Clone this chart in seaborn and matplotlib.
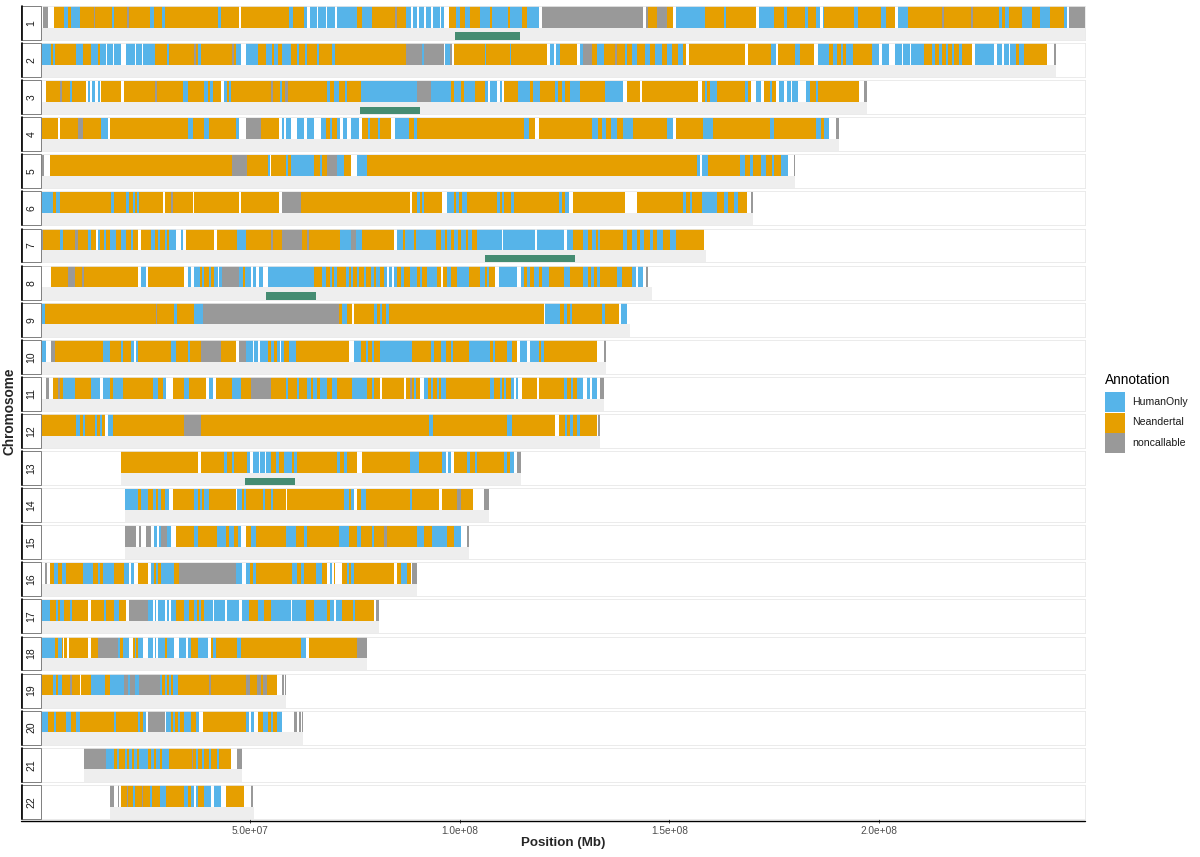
import numpy as np
import pandas as pd
import matplotlib
matplotlib.use("Agg")
import matplotlib.pyplot as plt
import seaborn as sns
from matplotlib.patches import Rectangle
from matplotlib.lines import Line2D

# ---------------------------------------------------------
# Data: one track string per chromosome.
# Each token = annotation code + start position (Mb); a segment runs
# until the next token. H=HumanOnly, N=Neandertal, X=noncallable,
# G=no call (blank), E=end of track.
# ---------------------------------------------------------
chrom_names = ["1", "2", "3", "4", "5", "6", "7", "8", "9", "10", "11",
               "12", "13", "14", "15", "16", "17", "18", "19", "20", "21", "22"]

tracks = [
    # 1
    "G0 X0.5 G1.7 N3.1 H5.5 N6.4 H7.2 N9.2 X12.6 N13 H17 N17.4 X20.5 N21 H26 N26.9 H28.8 N29.7 "
    "H42.3 N43 G47.3 N47.8 H59.2 N60.2 H62.8 G63.6 H64.2 G65.8 H66.2 G68 H68.3 G70.3 H70.6 N75.5 "
    "H76.7 N79.1 X84.5 N85 H87.1 G88.3 H88.8 G89.8 H90.3 G91.5 H92 G93 H93.6 G95.2 H95.6 G96.2 "
    "N97.4 H99 N100 H101.3 N102.4 H104.9 N107.1 H107.6 N111.5 H112 N114.8 H116 G119 X119.6 G143.8 "
    "X144.5 N145 X147 N149.4 G151 H151.7 N158.5 H163 N163.5 G170.8 H171.4 N175.1 H177.5 N178.2 "
    "H182.5 N183 H185 G186 H186.8 N187 H194 N195 H200.5 N201.8 G204 H204.6 N206.9 X215 N215.5 "
    "X222 N222.4 H228.7 N229.5 H230.2 N231 H234.3 N236.6 H238.6 N241 H244.2 G245 X245.4 E249.2",
    # 2
    "H0 N2.3 H2.9 N3.4 H8.4 N10 H12 N13.6 H14 G15.5 H15.8 G17.2 H17.5 G19 H20.3 G22.5 H22.8 G24 "
    "H24.3 N27.1 H30.1 N30.5 X36.5 N37 H37.5 N38.2 X45.5 N46 H46.5 G47.7 H48.9 N51.7 H53.7 N55.2 "
    "H55.6 N56.5 H57.6 N59.6 H61 N61.5 H63 N63.5 H66 N66.3 H69.5 N70.3 X87.1 H91 X91.5 G96.2 "
    "H96.5 X97.6 G98.2 N98.6 H106 N106.3 H112 N112.3 G120.8 H121.6 G122.5 H123 N124 G127.9 H128.6 "
    "X129.5 N131.5 H132.7 N134.3 X137 N137.6 H139.5 N140 H141 N142.2 H144.2 N145.4 H146.6 N148.2 "
    "H149.4 N150.6 H152.1 N153.3 G154.1 N154.8 G168 N168.8 H174.3 G175.5 N175.9 H179.9 N181.1 "
    "G184.6 H185.4 N188.2 H189 N190 H191 N191.5 H192.2 N193.8 H198.5 G200.1 H200.9 G202.5 H203.9 "
    "G205.5 H205.8 G207.5 H207.8 N210.8 H212.8 N213.5 H214.3 N215.2 H216 N216.6 H217.5 N218 "
    "H219.2 N219.8 G222.3 H223.1 G227.5 H228.3 G229.5 H229.8 G231 H231.3 N232.7 H233.5 N234.6 "
    "G240.2 X241.8 E242.3",
    # 3
    "G0 N1.3 X4.5 N5 H7 N7.5 G10.8 H11.2 G11.6 H12.2 G13 H13.5 G14 N14.4 G19.1 N19.8 X27.2 N27.8 "
    "H33.8 N35 H39 N39.8 H40.3 N41 G42.9 H43.7 N44.5 H45 N45.3 X55 N55.5 H57 N57.5 X58.3 N59 "
    "H68.3 N69 H70 N71.1 H72.5 N73.1 H76.3 X89.8 H93 N97.8 H98.6 N100.2 H101 N103.7 H106.1 G106.8 "
    "H107.3 G108.9 H109.5 G110 N110.5 H114 N116.8 H117.5 N119.2 H122.8 N123.5 H124.5 N125 H126.3 "
    "N128.7 H134.7 G139 N139.8 G143 N143.4 G156.9 N157.7 H158.5 N159 H159.8 N161.3 H168 N168.8 "
    "G169.6 H170.8 G172 N172.7 H174 N174.5 G175.5 H176.3 G177.5 H178 G179 H179.3 G180.7 H182.7 "
    "N183.5 H185 N185.5 G195.4 X196.6 E197.3",
    # 4
    "N0 G4.1 N4.5 X8.8 N10 H14.4 G15.9 N16.4 H35 N36.2 H39 N40.2 H46.5 G47.3 X48.9 N52.5 G56.8 "
    "H57.5 G58 H58.4 G59.6 H61.2 G62.8 H63.6 G65.2 H66.8 N68 H69 N69.5 H70.7 G71.5 H72 G73 H73.9 "
    "G75.9 N76.7 H78 N78.5 H80.5 N81 G83.5 H84.5 N87.9 H89 N89.8 H115.2 N116.4 G118 N118.8 H131.5 "
    "N133 H134 N135 H136 N137.5 H139 N141.4 H149.4 G151 N151.7 H158.1 N160.5 H174 N175 H185 "
    "N186.2 H187 G188.2 X189.8 E190.4",
    # 5
    "G0 X0.1 G0.8 N2.1 X45.7 N49.3 H54.1 G54.7 N55 H58.4 N59 H59.6 N65.2 H66.5 N67 X68.3 H70.7 "
    "N72.3 G73.9 H75.5 N77.9 H156.5 G157.3 H157.8 N159.3 H166.8 N168 H169.2 N170 H172 N173.1 "
    "H174.5 N175 H176.7 G178.3 X179.7 E180.1",
    # 6
    "H0 N2.9 H3.5 N4.5 H16.8 N17.5 H20.3 N21.1 H22 N22.5 H23 N23.5 G29.1 N29.5 X31 N31.5 G36.2 "
    "N36.6 G47.3 N47.7 G56.8 X57.6 N62 G88.2 N88.6 H89.8 N90.6 H91 N91.4 G95.8 H97 N98.5 H99 "
    "N99.8 H100.5 N101.7 H108.9 N109.7 H110 N110.5 H112.1 N112.9 H123.6 N124.5 H125 G126 N127.1 "
    "G139.4 N142.2 H153.3 N154 H154.9 N155.5 H157.7 N161.3 H163 N164 H165.5 N166.5 G168.5 X169.5 "
    "E170",
    # 7
    "X0 N0.5 H4.5 N5.3 X8 N8.8 H11.2 N12 G13.2 H13.6 N14 H15 N15.5 H16.4 N18 H19.1 N20.3 H21.5 "
    "N22 G23.1 N23.9 H26.3 N27.1 H28 N28.5 H29.5 N30 H30.6 G32.2 H33.4 G34 N34.6 G41.4 N42.1 "
    "H46.9 N48.9 X54.8 N55.5 X57.6 N62.4 X63.5 N64 H71.5 X73.9 H75.1 N76.7 G84.3 H84.9 N86.5 H87 "
    "N89 H89.5 N94.2 H95.4 N96.5 H97 N98 H98.5 N99.5 H100.2 N101.5 H102 N103 H104 G110 H110.3 "
    "G118 H118.3 G124.8 H125.6 N127.1 H129.5 N130.5 H131.5 N132.5 H133 N133.5 H139 N140 H141 "
    "N142.2 H143 N144 H145.4 N146 H147 N148.5 H150.1 N151.7 G158.2 E158.8",
    # 8
    "G0 N2.5 X6.4 N8 X9.8 N10.2 G23.1 H23.9 G25.1 N25.5 G34.2 H35 G35.8 H36.6 N38 H38.5 N39 H40 "
    "N40.6 H41.4 G42.3 H42.6 X43.3 H47.3 N48.2 H48.8 G50.1 H50.7 G51.3 H52.1 G53 H54.1 N65.2 "
    "H67.2 N68 H69 N69.5 H70 N70.7 H72.7 N73.5 H74 N74.5 H75.5 N76 H77 N77.5 H78.7 N79.5 H80 N81 "
    "H81.9 G82.5 H83 G83.8 H84.2 N85.1 H86 N86.7 H88.2 N89.8 H90.5 N91 H92.2 N94.6 G95.5 N96 H97 "
    "N98 H99.4 N102.1 H104.9 N106 H106.5 N106.9 G108.5 H109.3 G113.6 H114.5 N115.2 H116 N116.8 "
    "H117.6 N118.8 H119.5 N121.2 H124.8 N126.3 H129.5 N130.5 H131.3 N132 H132.8 N133.5 H137.5 "
    "N138.6 H141 G142 H142.5 G143.8 X144.5 G145 E145.8",
    # 9
    "H0 N1 X27.5 N27.8 H31.8 N32.5 H36.6 X38.6 N71.1 H71.9 N73.1 G74.3 N74.7 H79.5 N80.2 H81 "
    "N81.4 H82.3 N83 G120 H120.4 N124 H124.8 N125.6 H126.3 N126.7 H133.9 N134.7 G137.9 H138.4 "
    "G139.8 E140.6",
    # 10
    "H0 G1.3 X2.5 N3.3 H14.8 N16.4 H19 N19.5 H21.5 G22.3 H22.6 N23.1 H31 N32.2 H35 N35.5 X38.2 "
    "N42.9 G46.5 X47.3 H48.9 G50.5 H50.8 G51.8 H52.2 N54.1 H55 N55.6 H56.4 G57 H57.4 N58 H59.2 "
    "N60.8 G73.5 H74.7 N76.3 H77.5 N78 H79 N79.5 H81 N88.6 H93 N93.8 H95.4 N96.6 H97.8 N98.4 "
    "H102.1 N107.3 H108 N108.5 H111.3 N112.5 G113.6 H114.4 G116 H116.8 N118.8 H119.3 N120 G132.7 "
    "X134.3 E135",
    # 11
    "G0 X1.3 G2 N2.9 X4 N4.5 H5.2 N8 H12 G14 H14.8 N16.5 H17.2 N19.5 H26.7 N27.9 H29.1 G29.9 "
    "N31.4 H34.2 N35.4 G39.4 H40.2 G41 N41.8 H45.7 N47.7 X50.1 N54.9 H58.5 N59 H61 N61.5 H63.6 "
    "N64.5 H65 N66 H66.5 N68.3 H69.5 N70.7 H74.3 N77.9 H79 N79.5 G81 N81.5 G86.7 N87.1 X88 N88.5 "
    "H89 N89.5 G90.6 H91.4 N92.5 H93 N93.5 H94.5 N95 H95.5 N96.6 H107.3 N108.1 H109.5 N110 "
    "H110.5 N111 H112.1 G112.9 H113.3 G114 N114.8 G118.4 N118.8 H124.8 N125.5 H126.5 N127 H127.9 "
    "G129.5 H130.3 G131 H131.5 G132.7 X133.5 E134.3",
    # 12
    "N0 H8.4 N9.3 H10 N10.4 H12.8 N13.3 H14 N14.5 G15.2 H16 N17.2 X34.2 N38.3 H92.6 N93.6 "
    "H111.3 N112.5 G122.8 N123.6 H125 N125.5 H126.3 N127 H128 N128.7 G132.7 X133 E133.5",
    # 13
    "N19 G37.4 N38.2 H43.7 N44.5 H45.5 N46.1 H49.3 G50 H50.5 G52 H52.3 G53.5 H53.8 N55 H56 "
    "N56.8 H58 N60 H60.5 N61.2 H70.7 N71.3 H72.3 N73.1 G75.5 N76.7 H88.2 N90.2 H95.8 G96.6 "
    "H97.2 G97.8 N98.6 H101.7 N102.5 H103.5 N104 H110.5 N111.2 H112 G112.9 X113.6 E114.7",
    # 14
    "H20.1 N23.1 H23.9 N25.5 H26.7 N27.5 H28 N28.7 H29.5 G30.6 N31.4 H36.6 N37.5 H38 N38.5 H39 "
    "N40.2 G46.5 H46.9 N48 H48.5 N48.9 H53 N53.5 H55 N55.5 G58.4 N58.8 H72.3 N73.5 H74 G74.7 "
    "N75.5 H76.5 N77.5 H88 N88.5 G95 N95.8 X99.4 N100.2 G103.2 X105.7 E106.9",
    # 15
    "X20.1 G22.7 X23.5 G23.9 X25.1 G26.3 H27 G27.8 H28.2 X28.7 H30 G31 N32.2 H36.6 N37.4 H42.1 "
    "N44.1 H44.9 N46.1 H47 G47.7 N48.9 H50.1 N51.3 H58.4 N60.8 H62.8 N63.6 H71.1 N73.5 H75.5 "
    "N76.3 H79 N79.5 X82 N82.5 H89.8 N91.4 H93.4 N97 H98.6 G100.3 X101.7 E102.1",
    # 16
    "G0 X0.9 G1.5 N2.1 H3 N4 H5 N6 H10 N12.4 H13.5 N14 H14.8 N17.5 H19.9 G21 H21.5 G22.3 N23.1 "
    "G25.5 H26.3 N27 H27.5 N28 H28.7 N31.8 X33 H46.5 G48.1 H48.9 N50 H50.5 N51.3 H60 N61 H62 "
    "N62.8 H65.6 N67.2 G68.3 H69 G69.5 N70 G70.3 N71.9 H73 N73.5 H74 N74.7 G84.3 N85 H86 N87.5 "
    "G88.3 X88.6 E89.8",
    # 17
    "H0 N2.1 H3.5 N4 H4.5 N5.6 H7 N7.5 G11.2 N12 H15 N15.5 H17.5 N18.7 G20.3 X21.1 H25.5 G26.7 "
    "H27.1 G27.5 H27.9 G29.5 H30 G30.5 H31 N32.2 H34.2 N35.4 H36.6 N37.2 H37.8 N38.3 H39 G41 "
    "H41.3 G44 H44.3 G47.3 H48.1 N49.7 H51.7 N53.3 H54.9 G59.6 H60 N63.2 H65.2 N68.3 H69 G69.9 "
    "H70.5 N71.9 H74.5 N75 G79.5 X80 E80.8",
    # 18
    "H0 N3.3 H4.1 N5 G5.2 N5.6 G6.3 N6.8 G11.2 N12 G12.8 N13 X13.6 H18.3 N18.8 H19.5 G21.1 N21.9 "
    "H22.5 N22.8 H23.1 G24.3 H25.5 G26.7 H27.2 G27.5 H27.9 N29.5 H30.2 G31.8 H33 G34.6 H35 N35.8 "
    "H37.4 G39.8 N40.6 H41 N41.8 H46.9 N47.7 H62 G63.2 N64 X75.5 E77.9",
    # 19
    "N0 H2.9 N3.5 H4 N4.9 X7 N7.5 G9.2 N9.6 H12 N15.2 H16.4 X19.9 H20.8 X21.3 H22.5 X23.5 H28.3 "
    "N29 H29.5 N30 H30.5 N31 H31.5 N32.6 X40 N40.5 X49 N50 X51.5 N52.5 X53 N54 G56.4 X57.5 G57.9 "
    "X58.2 E58.6",
    # 20
    "H0 N1.7 H3 N3.5 H6 N7.2 H8.4 N9.2 H17.5 N18 H23.1 N23.6 H24.3 G25.1 X25.5 G29.5 H29.9 N31 "
    "H31.4 N32 H32.6 N33.3 H34.2 N35.8 H37 G37.8 N38.6 H48.9 G49.7 H50.1 G50.9 N51.7 H52.9 N54.1 "
    "H54.9 N55.5 H56.4 G57.6 X60.5 G61 X61.5 G62 X62.3 E62.6",
    # 21
    "X10.2 H15.6 N17.5 H18.2 N18.7 H20 N20.5 H21 N21.7 H22.3 N23 H23.5 N25.5 H26.3 N27 H27.5 "
    "N28.3 H28.8 N30.6 X36 N36.4 H37 N37.5 H38.5 N39 H40 N40.6 H42 N42.5 G45.3 X46.9 E47.9",
    # 22
    "X16.5 G17.4 X18.3 G18.6 N19 X20.5 N20.8 H22 N22.5 X24 N24.3 H26 N26.5 H28.3 N29.8 H34.2 "
    "N35 H35.8 G36.5 H37 N37.4 H39 G40.6 H41.4 G42.9 N44.1 G48.5 X50.1 G50.5 E50.9",
]

# green highlighted regions (Mb)
hl_chrom = ["1", "3", "7", "8", "13"]
hl_start = [98.8, 76.2, 106.0, 53.6, 48.8]
hl_end = [114.4, 90.4, 127.6, 65.7, 60.7]

x_ticks = [5.0e7, 1.0e8, 1.5e8, 2.0e8]
x_tick_labels = ["5.0e+07", "1.0e+08", "1.5e+08", "2.0e+08"]
x_max = 249.25e6

annot_names = ["HumanOnly", "Neandertal", "noncallable"]
annot_colors = ["#56B4E9", "#E69F00", "#999999"]
palette = dict(zip(annot_names, annot_colors))
code_map = {"H": "HumanOnly", "N": "Neandertal", "X": "noncallable", "G": "gap"}
BG = "#EEEEEE"
GREEN = "#458C72"

# ---------------------------------------------------------
# Build a long table of segments
# ---------------------------------------------------------
rows = []
for name, code in zip(chrom_names, tracks):
    toks = sorted(code.split(), key=lambda t: float(t[1:]))
    for a, b in zip(toks[:-1], toks[1:]):
        rows.append((name, code_map[a[0]], float(a[1:]) * 1e6, float(b[1:]) * 1e6))
segs = pd.DataFrame(rows, columns=["chrom", "annotation", "start", "end"])


def draw_track(data, **kws):
    ax = plt.gca()
    chrom = data["chrom"].iloc[0]
    lo, hi = data["start"].min(), data["end"].max()
    ax.barh(0.18, hi - lo, left=lo, height=0.36, color=BG, linewidth=0)
    shown = data[data["annotation"] != "gap"]
    ax.barh(np.full(len(shown), 0.675), shown["end"] - shown["start"],
            left=shown["start"], height=0.63,
            color=shown["annotation"].map(palette).tolist(), linewidth=0)
    for c, s, e in zip(hl_chrom, hl_start, hl_end):
        if c == chrom:
            ax.barh(0.11, (e - s) * 1e6, left=s * 1e6, height=0.22,
                    color=GREEN, linewidth=0)


sns.set_theme(style="white")
plt.rcParams["font.family"] = ["Liberation Sans", "DejaVu Sans"]

g = sns.FacetGrid(segs, row="chrom", row_order=chrom_names, height=0.39,
                  aspect=30, sharex=True, sharey=True, despine=False)
g.map_dataframe(draw_track)
g.set_titles("")
g.set_axis_labels("", "")

fig = g.figure
fig.set_size_inches(12, 8.57)
W, H = 1200.0, 857.0
left_px, right_px = 41.0, 1085.0
top_px, pitch, fh = 6.0, 37.09, 33.9


def fy(px):
    # pixel row (from top) -> figure fraction
    return 1 - px / H


for i, ax in enumerate(g.axes.flat):
    t = top_px + i * pitch
    ax.set_position([left_px / W, fy(t + fh), (right_px - left_px) / W, fh / H])
    ax.set_xlim(0, x_max)
    ax.set_ylim(0, 1)
    ax.set_yticks([])
    ax.set_facecolor("white")
    for sp in ax.spines.values():
        sp.set_color("#E8E8E8")
        sp.set_linewidth(0.6)
    if i == len(chrom_names) - 1:
        ax.set_xticks(x_ticks)
        ax.set_xticklabels(x_tick_labels, fontsize=7.3, color="#4D4D4D")
        ax.tick_params(axis="x", bottom=True, length=3, width=0.6,
                       color="#333333", pad=2)
    else:
        ax.tick_params(axis="x", bottom=False, labelbottom=False)

    # left strip with chromosome label
    fig.add_artist(Rectangle((21 / W, fy(t + fh)), 20 / W, fh / H,
                             transform=fig.transFigure, facecolor="white",
                             edgecolor="#7F7F7F", linewidth=0.7))
    fig.add_artist(Line2D([21.5 / W, 21.5 / W], [fy(t + fh), fy(t)],
                          transform=fig.transFigure, color="black", linewidth=1.2))
    fig.text(31.5 / W, fy(t + fh / 2), chrom_names[i], rotation=90,
             ha="center", va="center", fontsize=7.5, color="#1A1A1A")

# x axis line across strip + panel
fig.add_artist(Line2D([21 / W, right_px / W], [fy(820.5), fy(820.5)],
                      transform=fig.transFigure, color="black", linewidth=1.0))

fig.text(563 / W, fy(843), "Position (Mb)", ha="center", va="center",
         fontsize=9.6, fontweight="bold")
fig.text(10 / W, fy(411), "Chromosome", ha="center", va="center",
         rotation=90, fontsize=9.8, fontweight="bold")

# legend drawn as keys + labels
fig.text(1105 / W, fy(380), "Annotation", ha="left", va="center",
         fontsize=9.8, color="black")
key_top = [392, 412.5, 433]
for name, col, kt in zip(annot_names, annot_colors, key_top):
    fig.add_artist(Rectangle((1105 / W, fy(kt + 20)), 20 / W, 20 / H,
                             transform=fig.transFigure, facecolor=col,
                             edgecolor="none"))
    fig.text(1132 / W, fy(kt + 10), name, ha="left", va="center",
             fontsize=7.6, color="#1A1A1A")

fig.savefig("out.png", dpi=100, facecolor="white")
